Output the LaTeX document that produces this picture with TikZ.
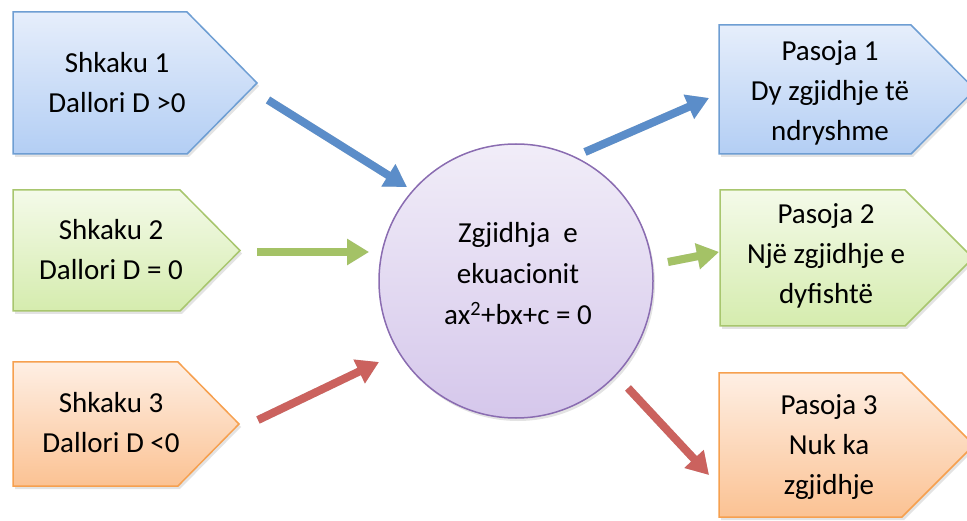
\documentclass[tikz,border=0pt]{standalone}
\usepackage{fontspec}
\setmainfont{Carlito}
\usetikzlibrary{arrows.meta,shadows}

\definecolor{blueTop}{HTML}{E6EEFB}
\definecolor{blueBot}{HTML}{B3CEF4}
\definecolor{blueLine}{HTML}{6E9ED3}
\definecolor{greenTop}{HTML}{F4FAE9}
\definecolor{greenBot}{HTML}{D5ECAE}
\definecolor{greenLine}{HTML}{A8C66E}
\definecolor{orangeTop}{HTML}{FEEFE4}
\definecolor{orangeBot}{HTML}{FBC293}
\definecolor{orangeLine}{HTML}{F6A04F}
\definecolor{purpleTop}{HTML}{F1EDF8}
\definecolor{purpleBot}{HTML}{D5C7EB}
\definecolor{purpleLine}{HTML}{8A6CB1}
\definecolor{arrowBlue}{HTML}{5B8DC9}
\definecolor{arrowGreen}{HTML}{A4C266}
\definecolor{arrowRed}{HTML}{CB625E}

\tikzset{
  boxshape/.style={line width=1.5pt, line join=miter,
    drop shadow={shadow xshift=2pt, shadow yshift=-3pt, opacity=0.22}},
  bluebox/.style={boxshape, draw=blueLine, top color=blueTop, bottom color=blueBot},
  greenbox/.style={boxshape, draw=greenLine, top color=greenTop, bottom color=greenBot},
  orangebox/.style={boxshape, draw=orangeLine, top color=orangeTop, bottom color=orangeBot},
  label/.style={align=center, inner sep=0pt, font=\fontsize{29}{40}\selectfont},
  fat/.style={line width=8pt, -{Triangle[width=25pt,length=22pt]}},
  fatshadow/.style={fat, draw=black, opacity=0.15, shift={(2pt,-3pt)}},
}

\begin{document}
\begin{tikzpicture}[x=1pt,y=1pt]
\useasboundingbox (0,0) rectangle (967,520);
\clip (0,0) rectangle (967,520);

% cause boxes (left)
\path[bluebox]   (13,508) -- (187,508) -- (257,437) -- (187,366) -- (13,366) -- cycle;
\path[greenbox]  (13,330) -- (180,330) -- (240,269.5) -- (180,209) -- (13,209) -- cycle;
\path[orangebox] (13,158) -- (178,158) -- (239,96) -- (178,34) -- (13,34) -- cycle;

% consequence boxes (right)
\path[bluebox]   (719,495) -- (911,495) -- (975,430.5) -- (911,366) -- (719,366) -- cycle;
\path[greenbox]  (720,330) -- (905,330) -- (973,262) -- (905,194) -- (720,194) -- cycle;
\path[orangebox] (719,147) -- (902,147) -- (974,75) -- (902,3) -- (719,3) -- cycle;

% central equation
\path[line width=1.5pt, draw=purpleLine, top color=purpleTop, bottom color=purpleBot,
      drop shadow={shadow xshift=2pt, shadow yshift=-3pt, opacity=0.22}]
  (516,239) circle [radius=137];

% texts
\node[label] (c1) at (117,437) {Shkaku 1\\Dallori D >0};
\node[label] (c2) at (111,270) {Shkaku 2\\Dallori D = 0};
\node[label] (c3) at (111,97)  {Shkaku 3\\Dallori D <0};
\node[label] (p1) at (830,427) {Pasoja 1\\Dy zgjidhje të\\ndryshme};
\node[label] (p2) at (826,264) {Pasoja 2\\Një zgjidhje e\\dyfishtë};
\node[label] (p3) at (829,73)  {Pasoja 3\\Nuk ka\\zgjidhje};
\node[label, font=\fontsize{29}{41}\selectfont] (eq) at (518,246)
  {Zgjidhja\ \ e\\ekuacionit\\ax\textsuperscript{2}+bx+c = 0};

% arrow end points
\coordinate (a1s) at (268,420); \coordinate (a1e) at (407,333);
\coordinate (a2s) at (257,268); \coordinate (a2e) at (369,268);
\coordinate (a3s) at (258,100); \coordinate (a3e) at (379,158);
\coordinate (b1s) at (585,368); \coordinate (b1e) at (709,422);
\coordinate (b2s) at (668,258); \coordinate (b2e) at (719,268);
\coordinate (b3s) at (628,132); \coordinate (b3e) at (709,45);

% arrow shadows
\foreach \s/\e in {a1s/a1e,a2s/a2e,a3s/a3e,b1s/b1e,b2s/b2e,b3s/b3e}
  \draw[fatshadow] (\s) -- (\e);

% arrows
\draw[fat, draw=arrowBlue,  fill=arrowBlue]  (a1s) -- (a1e);
\draw[fat, draw=arrowGreen, fill=arrowGreen] (a2s) -- (a2e);
\draw[fat, draw=arrowRed,   fill=arrowRed]   (a3s) -- (a3e);
\draw[fat, draw=arrowBlue,  fill=arrowBlue]  (b1s) -- (b1e);
\draw[fat, draw=arrowGreen, fill=arrowGreen] (b2s) -- (b2e);
\draw[fat, draw=arrowRed,   fill=arrowRed]   (b3s) -- (b3e);
\end{tikzpicture}
\end{document}
